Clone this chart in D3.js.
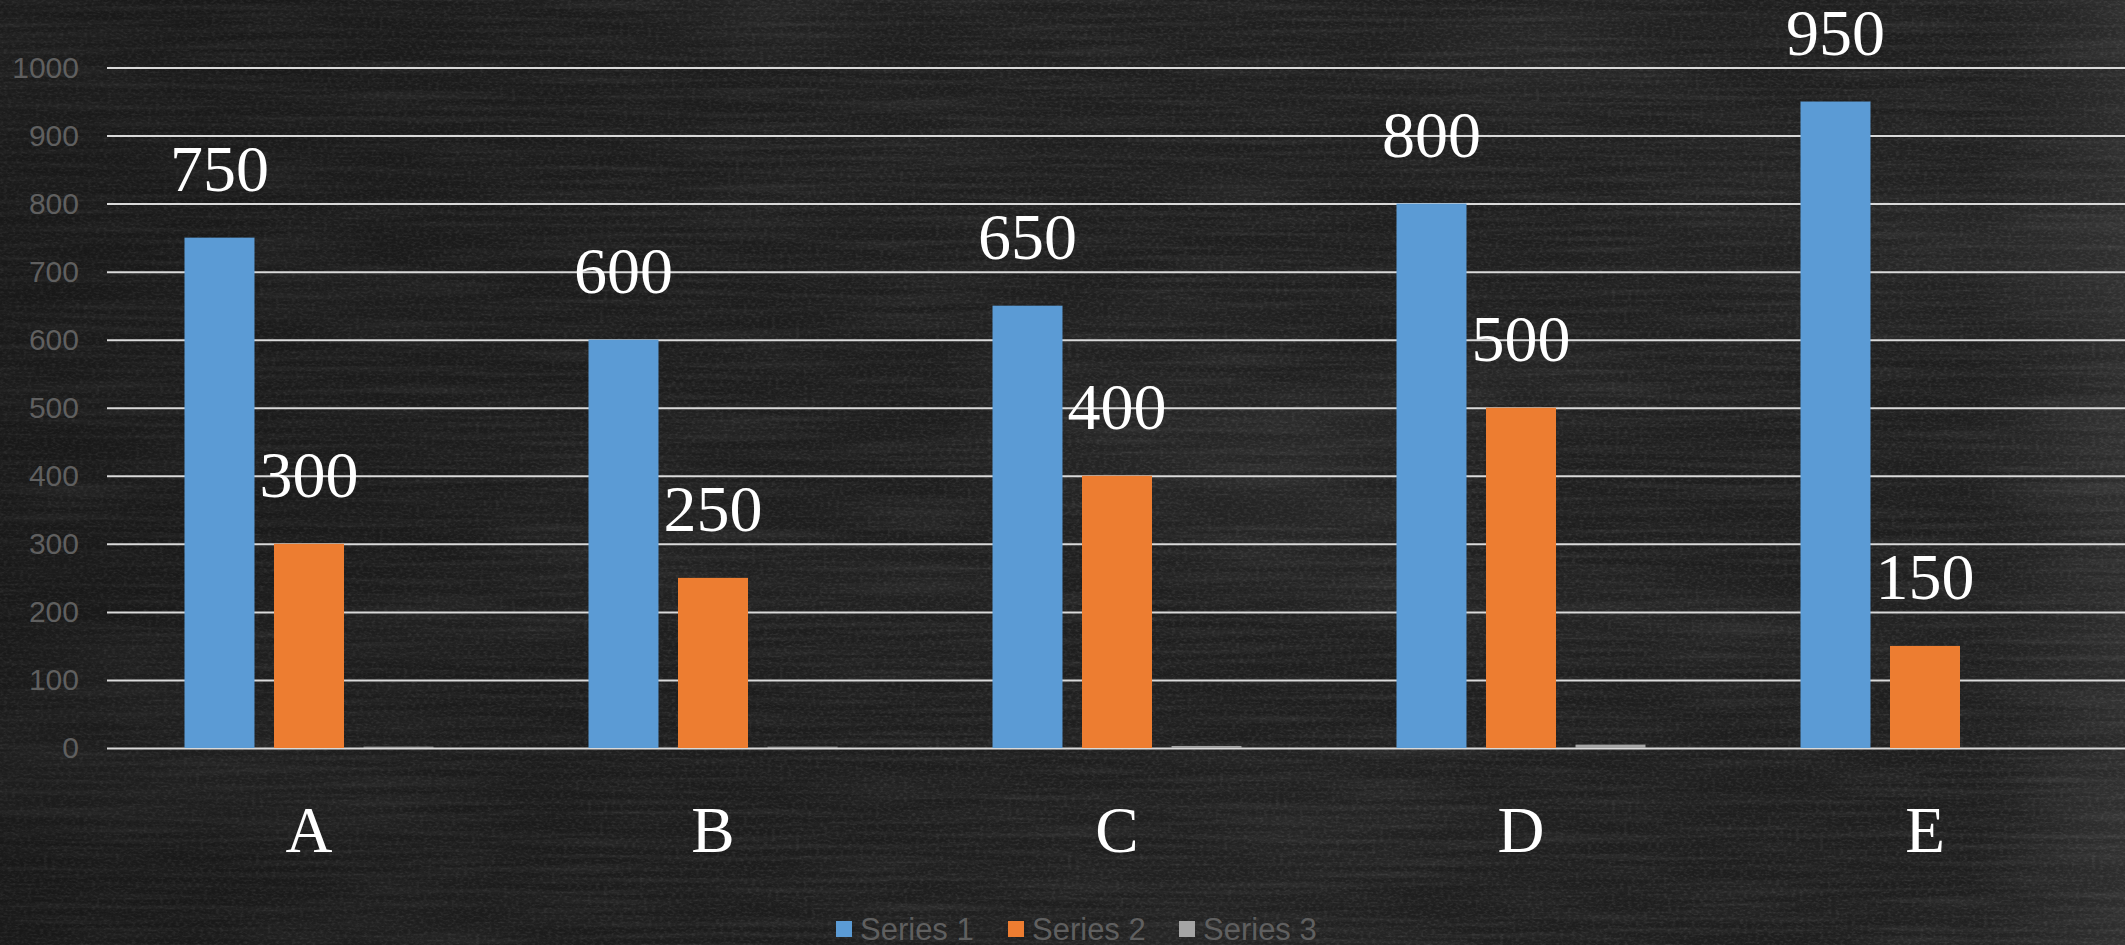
<!DOCTYPE html>
<html>
<head>
<meta charset="utf-8">
<script src="https://cdn.jsdelivr.net/npm/d3@7"></script>
<style>
  html, body { margin: 0; padding: 0; background: #1b1b1b; overflow: hidden; }
  svg { display: block; }
</style>
</head>
<body>
<svg id="chart" width="2125" height="945"></svg>
<script>
// Chart data
const categories = ["A", "B", "C", "D", "E"];
const seriesNames = ["Series 1", "Series 2", "Series 3"];
const series1 = [750, 600, 650, 800, 950];
const series2 = [300, 250, 400, 500, 150];
const series3 = [2, 2, 3, 5, 0];
const yTicks = [0, 100, 200, 300, 400, 500, 600, 700, 800, 900, 1000];
const colors = ["#5B9BD5", "#ED7D31", "#A5A5A5"];

const W = 2125, H = 945;
const svg = d3.select("#chart");
const defs = svg.append("defs");

// Chalkboard texture: faint horizontal scratches plus fine grain
const streak = defs.append("filter").attr("id", "streak")
  .attr("x", 0).attr("y", 0).attr("width", "100%").attr("height", "100%");
streak.append("feTurbulence").attr("type", "fractalNoise")
  .attr("baseFrequency", "0.006 0.18").attr("numOctaves", 4).attr("seed", 11);
streak.append("feColorMatrix").attr("type", "matrix")
  .attr("values", "0 0 0 0 1  0 0 0 0 1  0 0 0 0 1  1.0 0 0 0 -0.38");

const grain = defs.append("filter").attr("id", "grain")
  .attr("x", 0).attr("y", 0).attr("width", "100%").attr("height", "100%");
grain.append("feTurbulence").attr("type", "fractalNoise")
  .attr("baseFrequency", "0.25 0.5").attr("numOctaves", 2).attr("seed", 3);
grain.append("feColorMatrix").attr("type", "matrix")
  .attr("values", "0 0 0 0 1  0 0 0 0 1  0 0 0 0 1  1.3 0 0 0 -0.55");

const blotch = defs.append("filter").attr("id", "blotch")
  .attr("x", 0).attr("y", 0).attr("width", "100%").attr("height", "100%");
blotch.append("feTurbulence").attr("type", "fractalNoise")
  .attr("baseFrequency", "0.002 0.006").attr("numOctaves", 3).attr("seed", 21);
blotch.append("feColorMatrix").attr("type", "matrix")
  .attr("values", "0 0 0 0 1  0 0 0 0 1  0 0 0 0 1  1.0 0 0 0 -0.45");

const vign = defs.append("linearGradient").attr("id", "edge")
  .attr("x1", 0).attr("x2", 1).attr("y1", 0).attr("y2", 0);
vign.append("stop").attr("offset", "0").attr("stop-color", "#000").attr("stop-opacity", 0.2);
vign.append("stop").attr("offset", "0.5").attr("stop-color", "#000").attr("stop-opacity", 0);
vign.append("stop").attr("offset", "0.93").attr("stop-color", "#fff").attr("stop-opacity", 0);
vign.append("stop").attr("offset", "1").attr("stop-color", "#fff").attr("stop-opacity", 0.06);

svg.append("rect").attr("width", W).attr("height", H).attr("fill", "#1e1e1e");
svg.append("rect").attr("width", W).attr("height", H).attr("filter", "url(#blotch)").attr("opacity", 0.1);
svg.append("rect").attr("width", W).attr("height", H).attr("filter", "url(#streak)").attr("opacity", 0.12);
svg.append("rect").attr("width", W).attr("height", H).attr("filter", "url(#grain)").attr("opacity", 0.16);
svg.append("rect").attr("width", W).attr("height", H).attr("fill", "url(#edge)");

// Scales
const x0 = d3.scaleBand().domain(categories).range([107, 2127]).paddingInner(0).paddingOuter(0);
const x1 = d3.scaleBand().domain(seriesNames).range([77.5, 326.5]).paddingInner(0.218).paddingOuter(0);
const y = d3.scaleLinear().domain([0, 1000]).range([748, 67.5]);

// Gridlines and y labels
const yAxis = d3.axisLeft(y).tickValues(yTicks).tickSize(-(W - 107)).tickPadding(28).tickFormat(d3.format("d"));
const ga = svg.append("g").attr("transform", "translate(107,0)").call(yAxis);
ga.select(".domain").remove();
ga.selectAll(".tick line").attr("stroke", "#d9d9d9").attr("stroke-width", 2);
ga.selectAll(".tick text")
  .attr("fill", "#5f5f5f")
  .attr("font-family", "Liberation Sans, Arial, sans-serif")
  .attr("font-size", 30);

// Bars
const rows = categories.map((c, i) => ({
  cat: c,
  vals: [series1[i], series2[i], series3[i]]
}));

const groups = svg.append("g").selectAll("g").data(rows).join("g")
  .attr("transform", d => `translate(${x0(d.cat)},0)`);

groups.selectAll("rect").data(d => d.vals.map((v, j) => ({ v, s: seriesNames[j], j })))
  .join("rect")
  .attr("x", d => x1(d.s))
  .attr("width", x1.bandwidth())
  .attr("y", d => y(d.v))
  .attr("height", d => y(0) - y(d.v))
  .attr("fill", d => colors[d.j]);

// Value labels for Series 1 and Series 2
groups.selectAll("text.val").data(d => d.vals.slice(0, 2).map((v, j) => ({ v, s: seriesNames[j] })))
  .join("text")
  .attr("class", "val")
  .attr("x", d => x1(d.s) + x1.bandwidth() / 2)
  .attr("y", d => y(d.v) - 47)
  .attr("text-anchor", "middle")
  .attr("fill", "#ffffff")
  .attr("font-family", "Liberation Serif, 'Times New Roman', serif")
  .attr("font-size", 66)
  .text(d => d.v);

// Category labels
svg.append("g").selectAll("text").data(categories).join("text")
  .attr("x", d => x0(d) + x0.bandwidth() / 2)
  .attr("y", 852)
  .attr("text-anchor", "middle")
  .attr("fill", "#ffffff")
  .attr("font-family", "Liberation Serif, 'Times New Roman', serif")
  .attr("font-size", 65)
  .text(d => d);

// Legend
const legendX = [836, 1008, 1179];
const lg = svg.append("g").selectAll("g").data(seriesNames).join("g")
  .attr("transform", (d, i) => `translate(${legendX[i]},0)`);
lg.append("rect").attr("x", 0).attr("y", 921).attr("width", 16).attr("height", 16)
  .attr("fill", (d, i) => colors[i]);
lg.append("text").attr("x", 24).attr("y", 940)
  .attr("fill", "#5f5f5f")
  .attr("font-family", "Liberation Sans, Arial, sans-serif")
  .attr("font-size", 31)
  .text(d => d);
</script>
</body>
</html>
